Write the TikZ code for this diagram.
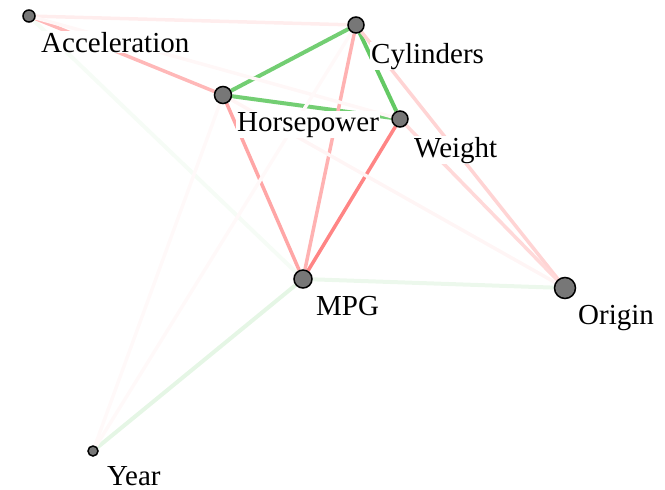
\documentclass[tikz,border=0pt]{standalone}
\usepackage{fontspec}
\setmainfont{Liberation Serif}
\usepackage{xcolor}
\usepackage{tikz}
\usetikzlibrary{backgrounds}

\definecolor{corrpos}{RGB}{40,180,40}
\definecolor{corrneg}{RGB}{255,0,0}
\definecolor{dotgray}{RGB}{119,119,119}

\begin{document}
\begin{tikzpicture}[x=1pt,y=-1pt,
    feature/.style={circle, fill=dotgray, draw=black, line width=1.5pt, inner sep=0pt, minimum size=#1},
    featname/.style={anchor=base west, fill=white, inner sep=1pt, font=\fontsize{29}{30}\selectfont},
    poscor/.style={draw=corrpos!#1, line width=4pt},
    negcor/.style={draw=corrneg!#1, line width=3.5pt}]
    \useasboundingbox (0,0) rectangle (665,490);

    % Features
    \node[feature=12pt] (acc) at (29,16) {};
    \node[feature=16pt] (cyl) at (356,25) {};
    \node[feature=17pt] (hp)  at (223,95) {};
    \node[feature=16pt] (wt)  at (400,119) {};
    \node[feature=18pt] (mpg) at (303,279) {};
    \node[feature=21pt] (org) at (565,288) {};
    \node[feature=10pt] (yr)  at (93,451) {};

    % Names
    \node[featname] at ([shift={(11,36)}]acc) {Acceleration};
    \node[featname] at ([shift={(14,38)}]cyl) {Cylinders};
    \node[featname] at ([shift={(13,36)}]hp)  {Horsepower};
    \node[featname] at ([shift={(13,38)}]wt)  {Weight};
    \node[featname] at ([shift={(12,36)}]mpg) {MPG};
    \node[featname] at ([shift={(12,36)}]org) {Origin};
    \node[featname] at ([shift={(13,34)}]yr)  {Year};

    % Correlations
    \begin{scope}[on background layer]
        \foreach \a/\b/\s in {cyl/hp/65, hp/wt/65, cyl/wt/72, mpg/yr/12, mpg/org/9, acc/mpg/4}
            \draw[poscor=\s] (\a) -- (\b);
        \foreach \a/\b/\s in {wt/mpg/48, hp/mpg/35, cyl/mpg/30, acc/hp/28, cyl/org/17, wt/org/15,
                              acc/cyl/7, hp/org/4, acc/wt/3, yr/hp/2.5, yr/cyl/2.5}
            \draw[negcor=\s] (\a) -- (\b);
    \end{scope}
\end{tikzpicture}
\end{document}
